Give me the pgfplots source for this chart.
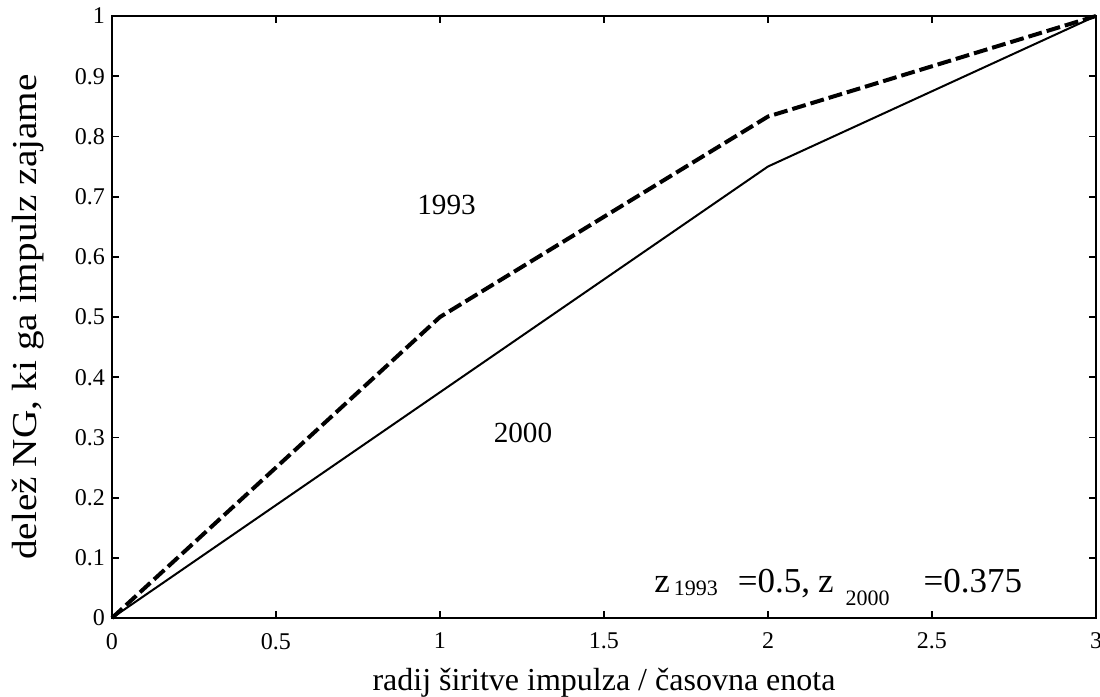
\documentclass[border=0pt]{standalone}
\usepackage{pgfplots}
\pgfplotsset{compat=1.18}
\usepackage{fontspec}
\setmainfont{Liberation Serif}
\begin{document}
\begin{tikzpicture}
\begin{axis}[
  name=ax,
  scale only axis,
  width=492pt, height=301pt,
  xmin=0, xmax=3, ymin=0, ymax=1,
  xtick={0,0.5,1,1.5,2,2.5,3},
  ytick={0,0.1,0.2,0.3,0.4,0.5,0.6,0.7,0.8,0.9,1},
  xticklabels={0,0.5,1,1.5,2,2.5,3},
  yticklabels={0,0.1,0.2,0.3,0.4,0.5,0.6,0.7,0.8,0.9,1},
  tick align=inside,
  major tick length=3.5pt,
  tick style={black, line width=0.9pt},
  axis line style={line width=1.3pt},
  ticklabel style={font=\fontsize{12}{14}\selectfont},
  xticklabel style={yshift=-4pt},
  xlabel={radij širitve impulza / časovna enota},
  ylabel={\scalebox{1.12}[1]{delež NG, ki ga impulz zajame}},
  xlabel style={font=\fontsize{16}{18}\selectfont, at={(axis description cs:0.5,-0.108)}, anchor=center, inner sep=0pt},
  ylabel style={font=\fontsize{17.5}{19}\selectfont, at={(axis description cs:-0.0853,0.5)}, anchor=center, inner sep=0pt},
  clip=false,
]
\addplot[black, line width=1pt] coordinates {(0,0) (2,0.75) (3,1)};
\addplot[black, line width=2pt, dash pattern=on 7pt off 2.5pt] coordinates {(0,0) (1,0.5) (2,0.833) (3,1)};
\node[font=\fontsize{14.6}{17}\selectfont] at (axis cs:1.02,0.686) {1993};
\node[font=\fontsize{14.6}{17}\selectfont] at (axis cs:1.253,0.307) {2000};
\node[font=\fontsize{17.5}{20}\selectfont, anchor=base west, inner sep=0pt] at (axis cs:1.652,0.043) {z\hspace{2pt}\raisebox{-1.5pt}{\fontsize{11}{13}\selectfont 1993}\hspace{10pt}=0.5,\hspace{4pt}z\hspace{6pt}\raisebox{-6.5pt}{\fontsize{11}{13}\selectfont 2000}\hspace{17pt}=0.375};
\end{axis}
\pgfresetboundingbox
\path ([xshift=-56pt,yshift=-39.5pt]ax.south west) rectangle ([xshift=2pt,yshift=8pt]ax.north east);
\end{tikzpicture}
\end{document}
